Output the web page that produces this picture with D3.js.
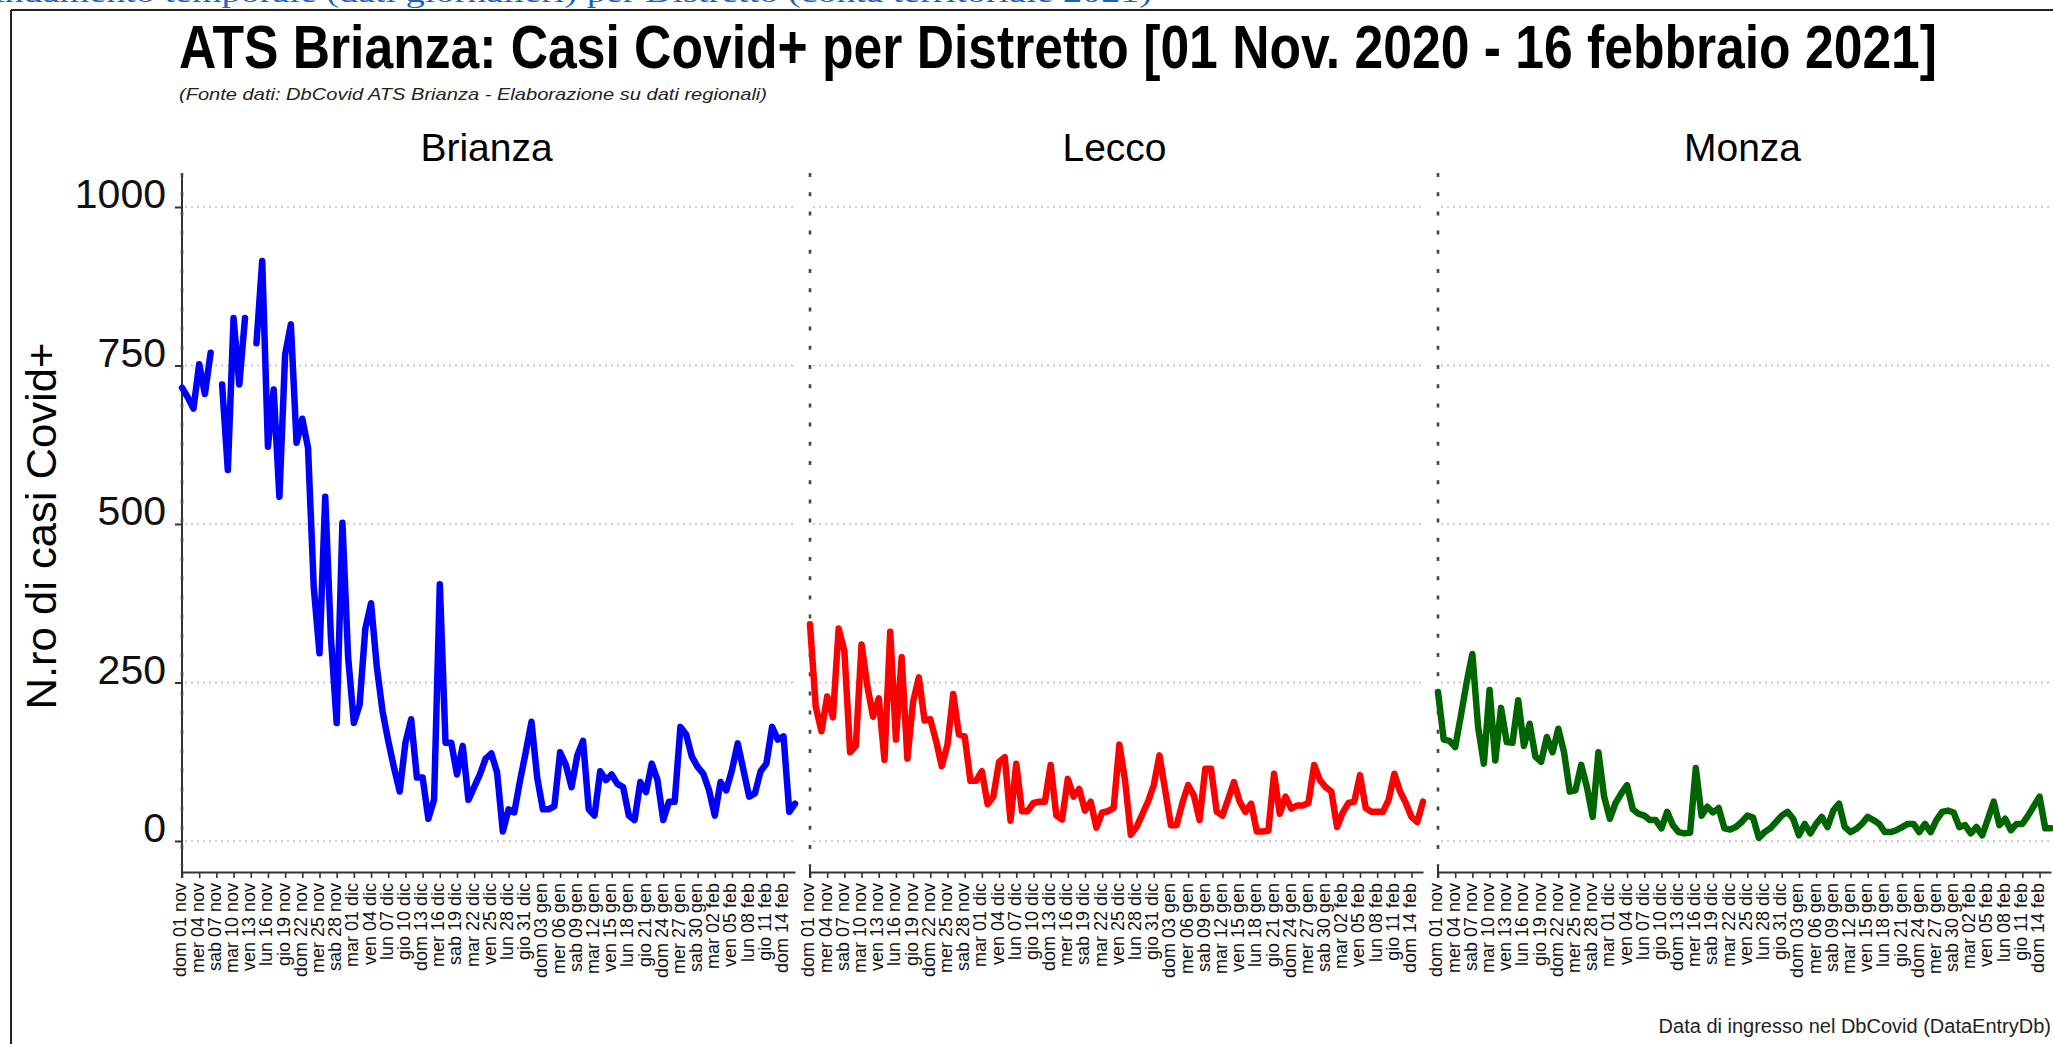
<!DOCTYPE html>
<html><head><meta charset="utf-8">
<script src="https://cdn.jsdelivr.net/npm/d3@7"></script>
<style>
html,body{margin:0;padding:0;background:#fff;overflow:hidden}
svg{display:block}
text{font-family:"Liberation Sans",Arial,Helvetica,sans-serif}
</style></head><body>
<svg id="c" width="2053" height="1044"></svg>
<script>
// ---------------- DATA ----------------
const districts = ["Brianza", "Lecco", "Monza"];
const startDate = "2020-11-01";
const endDate = "2021-02-16";
const yTicks = [0, 250, 500, 750, 1000];
const xTickLabels = ["dom 01 nov","mer 04 nov","sab 07 nov","mar 10 nov","ven 13 nov","lun 16 nov","gio 19 nov","dom 22 nov","mer 25 nov","sab 28 nov",
  "mar 01 dic","ven 04 dic","lun 07 dic","gio 10 dic","dom 13 dic","mer 16 dic","sab 19 dic","mar 22 dic","ven 25 dic","lun 28 dic","gio 31 dic",
  "dom 03 gen","mer 06 gen","sab 09 gen","mar 12 gen","ven 15 gen","lun 18 gen","gio 21 gen","dom 24 gen","mer 27 gen","sab 30 gen",
  "mar 02 feb","ven 05 feb","lun 08 feb","gio 11 feb","dom 14 feb"];
const brianza = [715,700,682,752,705,770,null,720,585,825,
  720,825,null,785,915,622,712,543,767,815,
  628,666,620,400,296,543,320,186,502,290,
  186,215,335,375,275,205,158,116,78,155,
  192,100,100,35,65,405,155,155,105,150,
  65,85,105,130,138,108,15,50,45,95,
  140,188,100,50,50,55,140,120,85,135,
  158,50,40,110,96,105,90,85,40,33,
  93,77,122,96,33,62,62,180,168,133,
  117,106,80,40,93,80,112,154,112,70,
  75,110,122,180,160,165,46,59];
const lecco = [342,212,173,228,195,335,300,140,150,310,
  245,196,225,128,330,160,290,130,220,258,
  190,192,158,118,152,232,168,165,95,95,
  110,58,70,125,132,32,122,47,47,60,
  62,62,120,40,34,98,70,82,48,62,
  21,45,47,52,152,95,10,22,42,62,
  88,135,80,25,25,60,88,72,33,114,
  114,46,40,66,93,62,46,59,15,15,
  16,106,43,70,51,56,56,60,120,96,
  85,78,22,45,60,62,104,52,46,46,
  46,65,106,78,60,38,30,62];
const monza = [235,160,158,148,198,250,295,180,122,238,
  127,210,156,155,222,150,185,133,125,164,
  140,177,140,78,80,120,85,38,140,70,
  35,60,75,88,50,43,40,33,33,20,
  46,25,14,12,13,115,40,54,45,52,
  20,18,22,30,40,37,5,14,20,30,
  40,46,35,9,27,12,27,38,22,48,
  59,22,14,19,27,38,33,27,14,14,
  17,22,27,27,14,27,14,33,46,48,
  45,22,25,12,22,9,35,62,25,35,
  17,27,27,40,55,70,20,20];
const seriesValues = [brianza, lecco, monza];

// ---------------- LAYOUT ----------------
const seriesColors = ["#0000ff", "#ff0000", "#006400"];
const panelLeft = [182, 810, 1438];
const panelW = 613;
const axisYpos = 872;
const svg = d3.select("#c");
const parse = d3.timeParse("%Y-%m-%d");
const t0 = parse(startDate), t1 = parse(endDate);
const dates = d3.timeDay.range(t0, d3.timeDay.offset(t1, 1));
const tickDates = xTickLabels.map((s, i) => d3.timeDay.offset(t0, 3 * i));
const y = d3.scaleLinear().domain([0, 1000]).range([841, 207]);

// top link text (partially cut, as in the page capture)
svg.append("text").attr("x", 1152).attr("y", 2).attr("text-anchor", "end")
  .style("font-family", "'Liberation Serif','Times New Roman',serif")
  .style("font-size", "28px").attr("fill", "#1e5fc0")
  .attr("textLength", 1175).attr("lengthAdjust", "spacingAndGlyphs")
  .text("Andamento temporale (dati giornalieri) per Distretto (conta territoriale 2021)");

// frame
svg.append("line").attr("x1", 11).attr("x2", 2053).attr("y1", 10).attr("y2", 10).attr("stroke", "#222").attr("stroke-width", 2);
svg.append("line").attr("x1", 11).attr("x2", 11).attr("y1", 10).attr("y2", 1044).attr("stroke", "#222").attr("stroke-width", 2);

// titles
svg.append("text").attr("x", 179).attr("y", 68).style("font-size", "61px").style("font-weight", "bold")
  .attr("textLength", 1758).attr("lengthAdjust", "spacingAndGlyphs")
  .text("ATS Brianza: Casi Covid+ per Distretto [01 Nov. 2020 - 16 febbraio 2021]");
svg.append("text").attr("x", 179).attr("y", 100).style("font-size", "17px").style("font-style", "italic")
  .attr("fill", "#222").attr("textLength", 588).attr("lengthAdjust", "spacingAndGlyphs")
  .text("(Fonte dati: DbCovid ATS Brianza - Elaborazione su dati regionali)");

// y label
svg.append("text").attr("transform", "translate(56,526) rotate(-90)").attr("text-anchor", "middle")
  .style("font-size", "42px").attr("textLength", 367).attr("lengthAdjust", "spacingAndGlyphs")
  .text("N.ro di casi Covid+");

// bottom-right note
svg.append("text").attr("x", 2051).attr("y", 1033).attr("text-anchor", "end").style("font-size", "20px")
  .attr("fill", "#222").text("Data di ingresso nel DbCovid (DataEntryDb)");

districts.forEach((name, i) => {
  const L = panelLeft[i];
  const R = i === 2 ? 2053 : L + panelW;
  const x = d3.scaleTime().domain([t0, t1]).range([L, L + panelW]);
  const g = svg.append("g");

  // panel title
  g.append("text").attr("x", L + panelW / 2 - 2).attr("y", 161).attr("text-anchor", "middle")
    .style("font-size", "39px").text(name);

  // gridlines
  g.selectAll(".grid").data(yTicks).enter().append("line")
    .attr("x1", L + 3).attr("x2", R).attr("y1", d => y(d)).attr("y2", d => y(d))
    .attr("stroke", "#bdbdbd").attr("stroke-width", 1.4).attr("stroke-dasharray", "2,4");

  // vertical axis line
  if (i === 0) {
    g.append("line").attr("x1", L).attr("x2", L).attr("y1", 175).attr("y2", axisYpos)
      .attr("stroke", "#333").attr("stroke-width", 2);
  }
  g.append("line").attr("x1", L).attr("x2", L).attr("y1", 173).attr("y2", 866)
    .attr("stroke", "#444").attr("stroke-width", 2.6).attr("stroke-dasharray", "4,15.2");

  // y axis ticks/labels on first panel
  if (i === 0) {
    const ya = g.append("g").attr("transform", `translate(${L},0)`)
      .call(d3.axisLeft(y).tickValues(yTicks).tickSize(7).tickPadding(9).tickFormat(d3.format("d")));
    ya.select(".domain").remove();
    ya.selectAll("line").attr("stroke", "#333").attr("stroke-width", 2);
    ya.selectAll("text").attr("dy", "0.02em").style("font-size", "41px").attr("fill", "#111");
  }

  // x axis
  const xa = g.append("g").attr("transform", `translate(0,${axisYpos})`)
    .call(d3.axisBottom(x).tickValues(tickDates).tickSize(6).tickSizeOuter(0)
      .tickFormat((d, k) => xTickLabels[k]));
  xa.select(".domain").attr("stroke", "#333").attr("stroke-width", 2);
  xa.selectAll(".tick line").attr("stroke", "#333").attr("stroke-width", 1.6);
  xa.selectAll("text").attr("transform", "rotate(-90)").attr("x", -11).attr("y", 0)
    .attr("dy", "0.22em").attr("text-anchor", "end").style("font-size", "18px").attr("fill", "#111");
  g.append("line").attr("x1", L).attr("x2", L).attr("y1", 866).attr("y2", 878)
    .attr("stroke", "#333").attr("stroke-width", 2);

  // series line
  const line = d3.line().defined(d => d != null)
    .x((d, k) => x(dates[k])).y(d => y(d));
  g.append("path").datum(seriesValues[i]).attr("d", line)
    .attr("fill", "none").attr("stroke", seriesColors[i]).attr("stroke-width", 6.5)
    .attr("stroke-linejoin", "round").attr("stroke-linecap", "round");
});
</script>
</body></html>
